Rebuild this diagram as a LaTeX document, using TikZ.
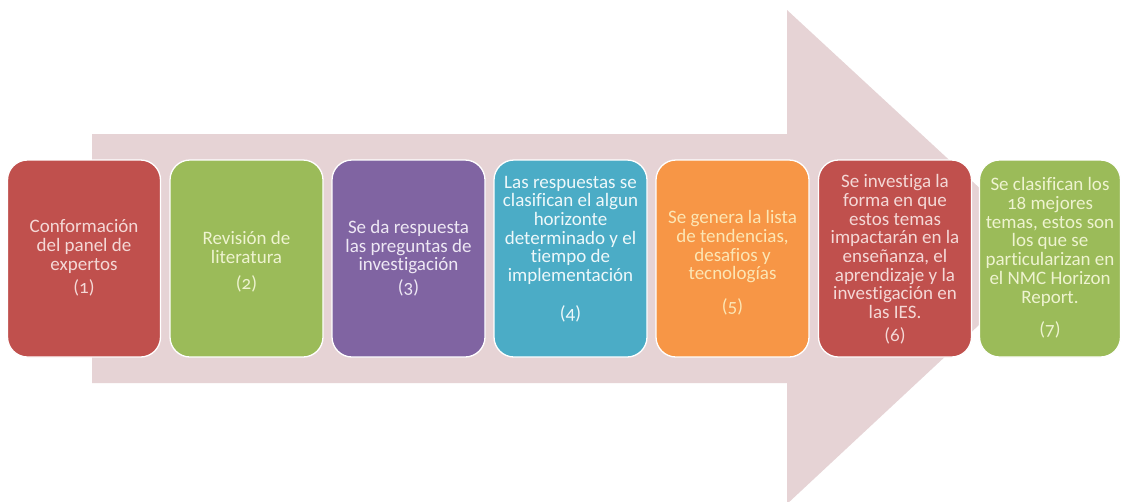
\documentclass[tikz,border=0pt]{standalone}
\usepackage{fontspec}
\setmainfont{Carlito}[Numbers=OldStyle, Ligatures=NoCommon]
\definecolor{arrowc}{HTML}{E6D3D5}
\definecolor{cred}{HTML}{C0504D}
\definecolor{cgreen}{HTML}{9BBB59}
\definecolor{cpurple}{HTML}{8064A2}
\definecolor{cblue}{HTML}{4BACC6}
\definecolor{corange}{HTML}{F79646}
\definecolor{tred}{HTML}{F4D8D6}
\definecolor{tgreen}{HTML}{EEF3D0}
\definecolor{tpurple}{HTML}{EEE8F4}
\definecolor{tblue}{HTML}{EEF8FA}
\definecolor{torange}{HTML}{FCE6B4}
\tikzset{
  stepbox/.style={draw=white, line width=1.3pt, rounded corners=20pt,
    minimum width=153pt, minimum height=197pt, inner sep=0pt},
  steptext/.style={align=center, inner sep=0pt,
    font=\fontsize{19}{18.7}\selectfont}
}
\begin{document}
\begin{tikzpicture}[x=1pt,y=-1pt]
\useasboundingbox (0,0) rectangle (1121,501);
\fill[white] (0,0) rectangle (1121,501);
% big arrow
\begin{scope}
\clip (0,0) rectangle (1121,501);
\fill[arrowc] (92,134) -- (787,134) -- (787,10) -- (1053,256) -- (787,504)
  -- (787,383) -- (92,383) -- cycle;
\end{scope}
% boxes
\node[stepbox, fill=cred]    (b1) at (84,258.5) {};
\node[stepbox, fill=cgreen]  (b2) at (246.5,258.5) {};
\node[stepbox, fill=cpurple] (b3) at (408.5,258.5) {};
\node[stepbox, fill=cblue]   (b4) at (570.5,258.5) {};
\node[stepbox, fill=corange] (b5) at (732.5,258.5) {};
\node[stepbox, fill=cred]    (b6) at (895,258.5) {};
\node[stepbox, fill=cgreen, minimum width=141pt] (b7) at (1050,258.5) {};
% texts
\node[steptext, text=tred] (t1) at (84,258) {Conformación\\del panel de\\expertos\\[5pt](1)};
\node[steptext, text=tgreen] (t2) at (246.5,262) {Revisión de\\literatura\\[8pt](2)};
\node[steptext, text=tpurple] (t3) at (408.5,258) {Se da respuesta\\las preguntas de\\investigación\\[3.5pt](3)};
\node[steptext, text=tblue] (t4) at (570.5,249) {Las respuestas se\\clasifican el algun\\horizonte\\determinado y el\\tiempo de\\implementación\\[19pt](4)};
\node[steptext, text=torange] (t5) at (732.5,263) {Se genera la lista\\de tendencias,\\desafios y\\tecnologías\\[14pt](5)};
\node[steptext, text=tred] (t6) at (895,259.5) {Se investiga la\\forma en que\\estos temas\\impactarán en la\\enseñanza, el\\aprendizaje y la\\investigación en\\las IES.\\[4.5pt](6)};
\node[steptext, text=tgreen] (t7) at (1050,258) {Se clasifican los\\18 mejores\\temas, estos son\\los que se\\particularizan en\\el NMC Horizon\\Report.\\[14pt](7)};
\end{tikzpicture}
\end{document}
